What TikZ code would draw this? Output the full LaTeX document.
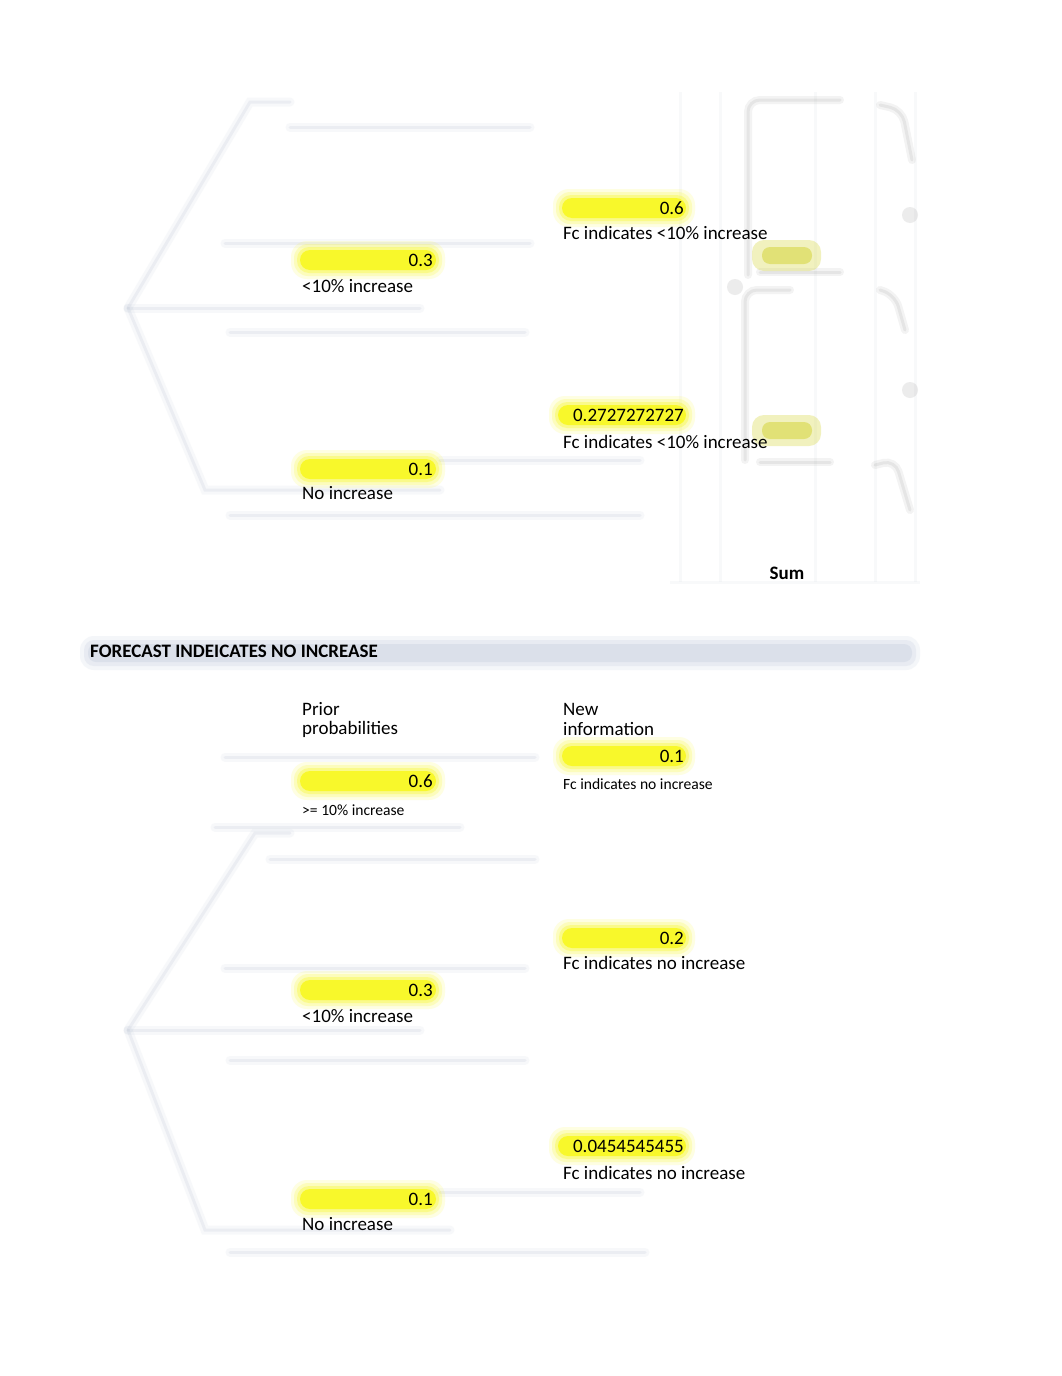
\documentclass[tikz,border=0pt]{standalone}
\usepackage{fontspec}
\setmainfont{Carlito}
\definecolor{hl}{RGB}{248,248,20}
\definecolor{faint}{RGB}{200,208,220}
\definecolor{band}{RGB}{214,220,232}
\definecolor{olive}{RGB}{215,215,70}
\tikzset{
  txt/.style={inner sep=0pt, font=\fontsize{19}{22}\selectfont},
  small/.style={inner sep=0pt, font=\fontsize{15.6}{18}\selectfont},
  bold/.style={inner sep=0pt, font=\fontsize{19}{22}\selectfont\bfseries},
  treeline/.style={draw=faint, line width=9pt, opacity=0.13, line cap=round,
    postaction={draw=faint, line width=3pt, opacity=0.25}},
  gridline/.style={draw=faint, line width=3pt, opacity=0.12},
  darkline/.style={draw=gray, line width=8pt, opacity=0.09, line cap=round, rounded corners=12pt,
    postaction={draw=gray, line width=3pt, opacity=0.12}}
}
\newcommand{\hlbox}[4]{%
  \fill[hl, opacity=0.12, rounded corners=16pt] (#1-7,#2-7) rectangle (#3+7,#4+7);
  \fill[hl, opacity=0.18, rounded corners=14pt] (#1-4,#2-4) rectangle (#3+4,#4+4);
  \fill[hl, opacity=0.3, rounded corners=12pt] (#1-1,#2-1) rectangle (#3+1,#4+1);
  \fill[hl, opacity=0.8, rounded corners=10pt] (#1+2,#2+2) rectangle (#3-2,#4-2);}
\begin{document}
\begin{tikzpicture}[x=1pt,y=-1pt]
\fill[white] (0,0) rectangle (1062,1376);
\useasboundingbox (0,0) rectangle (1062,1376);

% ---------- faint blurred tree (top) ----------
\draw[treeline] (128,308) -- (250,102) -- (290,102);
\draw[treeline] (290,127) -- (530,127);
\draw[treeline] (225,243) -- (530,243);
\draw[treeline] (128,308) -- (420,308);
\draw[treeline] (230,332) -- (525,332);
\draw[treeline] (128,308) -- (205,490) -- (440,490);
\draw[treeline] (440,460) -- (640,460);
\draw[treeline] (230,515) -- (640,515);

% ---------- faint blurred area (top right) ----------
\foreach \xx in {680,720,815,875,915}
  \draw[gridline] (\xx,92) -- (\xx,582);
\draw[gridline] (670,582) -- (920,582);
\draw[darkline] (748,275) -- (748,100) -- (840,100);
\draw[darkline] (880,105) -- (902,110) -- (912,160);
\draw[darkline] (760,272) -- (840,272);
\draw[darkline] (745,460) -- (745,290) -- (790,290);
\draw[darkline] (880,290) -- (895,295) -- (905,330);
\draw[darkline] (760,462) -- (830,462);
\draw[darkline] (875,465) -- (895,460) -- (910,510);
\fill[gray, opacity=0.15] (910,215) circle (8);
\fill[gray, opacity=0.15] (910,390) circle (8);
\fill[gray, opacity=0.15] (735,287) circle (8);
\fill[olive, opacity=0.35, rounded corners=12pt] (752,240) rectangle (821,271);
\fill[olive, opacity=0.6, rounded corners=8pt] (762,247) rectangle (812,264);
\fill[olive, opacity=0.35, rounded corners=12pt] (752,415) rectangle (821,446);
\fill[olive, opacity=0.6, rounded corners=8pt] (762,422) rectangle (812,439);

% ---------- heading band ----------
\fill[band, opacity=0.25, rounded corners=14pt] (80,636) rectangle (920,670);
\fill[band, opacity=0.4, rounded corners=10pt] (84,640) rectangle (916,666);
\fill[band, opacity=0.7, rounded corners=8pt] (88,644) rectangle (912,662);

% ---------- faint blurred tree (bottom) ----------
\draw[treeline] (225,757) -- (535,757);
\draw[treeline] (128,1030) -- (255,833) -- (290,833);
\draw[treeline] (215,827) -- (460,827);
\draw[treeline] (270,859) -- (535,859);
\draw[treeline] (225,968) -- (525,968);
\draw[treeline] (128,1030) -- (420,1030);
\draw[treeline] (230,1060) -- (525,1060);
\draw[treeline] (128,1030) -- (205,1230) -- (450,1230);
\draw[treeline] (440,1192) -- (640,1192);
\draw[treeline] (230,1252) -- (645,1252);

% ---------- yellow highlights ----------
\hlbox{560}{196}{688}{220}
\hlbox{298}{248}{438}{272}
\hlbox{556}{403}{688}{427}
\hlbox{298}{457}{438}{481}
\hlbox{560}{744}{688}{768}
\hlbox{298}{769}{438}{793}
\hlbox{560}{926}{688}{950}
\hlbox{298}{978}{438}{1002}
\hlbox{556}{1134}{688}{1158}
\hlbox{298}{1187}{438}{1211}

% ---------- texts (top) ----------
\node[txt, anchor=east] (t1v) at (684,208) {0.6};
\node[txt, anchor=west] (t1l) at (563,233) {Fc indicates <10\% increase};
\node[txt, anchor=east] (t2v) at (433,260) {0.3};
\node[txt, anchor=west] (t2l) at (302,286) {<10\% increase};
\node[txt, anchor=east] (t3v) at (684,415) {0.2727272727};
\node[txt, anchor=west] (t3l) at (563,442) {Fc indicates <10\% increase};
\node[txt, anchor=east] (t4v) at (433,469) {0.1};
\node[txt, anchor=west] (t4l) at (302,493) {No increase};
\node[bold] (sum) at (787,573) {Sum};

% ---------- heading ----------
\node[bold, anchor=west] (head) at (90,651) {FORECAST INDEICATES NO INCREASE};

% ---------- texts (bottom) ----------
\node[txt, anchor=west] (prior1) at (302,709) {Prior};
\node[txt, anchor=west] (prior2) at (302,729) {probabilities};
\node[txt, anchor=west] (new1) at (563,709) {New};
\node[txt, anchor=west] (new2) at (563,729) {information};
\node[txt, anchor=east] (b1v) at (684,756) {0.1};
\node[small, anchor=west] (b1l) at (563,784) {Fc indicates no increase};
\node[txt, anchor=east] (b2v) at (433,781) {0.6};
\node[small, anchor=west] (b2l) at (302,810) {>= 10\% increase};
\node[txt, anchor=east] (b3v) at (684,938) {0.2};
\node[txt, anchor=west] (b3l) at (563,963) {Fc indicates no increase};
\node[txt, anchor=east] (b4v) at (433,990) {0.3};
\node[txt, anchor=west] (b4l) at (302,1016) {<10\% increase};
\node[txt, anchor=east] (b5v) at (684,1146) {0.0454545455};
\node[txt, anchor=west] (b5l) at (563,1173) {Fc indicates no increase};
\node[txt, anchor=east] (b6v) at (433,1199) {0.1};
\node[txt, anchor=west] (b6l) at (302,1224) {No increase};
\end{tikzpicture}
\end{document}
